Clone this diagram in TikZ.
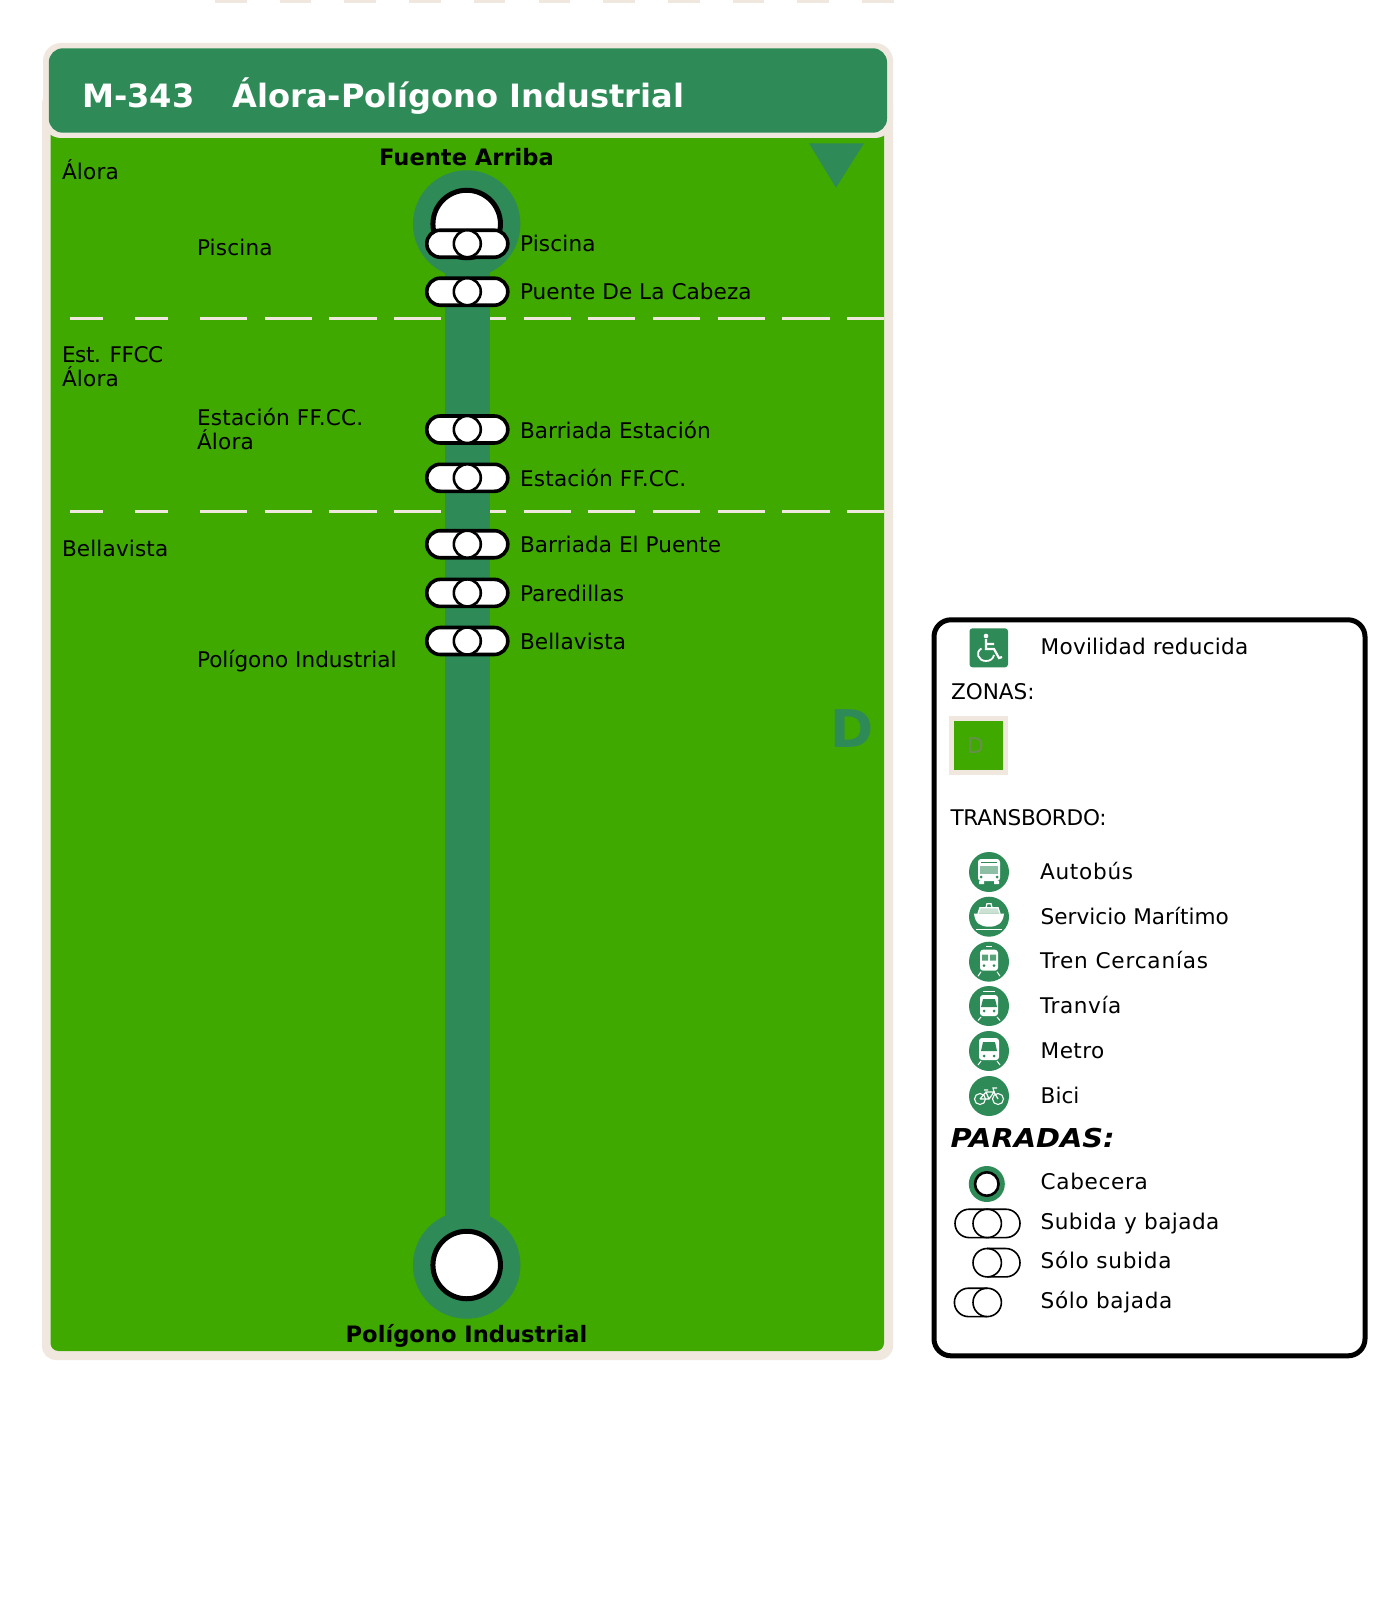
\documentclass[tikz,border=0pt]{standalone}
\usepackage{fontspec}
\setmainfont{DejaVu Sans}
\definecolor{lineg}{HTML}{2E8B57}
\definecolor{zoneg}{HTML}{3FA900}
\definecolor{creamc}{HTML}{F0E8DF}
\newcommand{\lsp}[2]{{\addfontfeature{LetterSpace=#1}#2}}
\tikzset{
  lbl/.style={anchor=base west,inner sep=0pt,outer sep=0pt,align=left,text=black,font=\fontsize{21.6}{23.8}\selectfont},
  boldlbl/.style={anchor=base,inner sep=0pt,outer sep=0pt,text=black,font=\fontsize{22.6}{26}\bfseries\selectfont},
  disc/.style={circle,fill=lineg,inner sep=0pt,outer sep=0pt,minimum size=107.5pt},
  headstop/.style={circle,fill=white,draw=black,line width=5pt,inner sep=0pt,outer sep=0pt,minimum size=67.5pt},
  capsule/.style={rectangle,rounded corners=13.4pt,fill=white,draw=black,line width=3.6pt,inner sep=0pt,outer sep=0pt,minimum width=81pt,minimum height=27pt},
  capcircle/.style={circle,fill=white,draw=black,line width=2.6pt,inner sep=0pt,outer sep=0pt,minimum size=27pt},
  sepline/.style={draw=creamc,line width=3.5pt},
  tdisc/.style={circle,fill=lineg,inner sep=0pt,outer sep=0pt,minimum size=40pt},
  wl/.style={draw=white,line width=1.3pt},
  leg/.style={draw=black,line width=1.6pt},
  pics/busicon/.style={code={
    \fill[white,rounded corners=3pt] (-11,-13) rectangle (11,9);
    \fill[lineg] (-8,-10) rectangle (8,-8.8);
    \fill[lineg!55!white] (-9,-6) rectangle (9,2);
    \fill[lineg] (-8,5) circle[radius=1.5] (8,5) circle[radius=1.5];
    \fill[white] (-10,9) rectangle (-5,12) (5,9) rectangle (10,12);
  }},
  pics/ferryicon/.style={code={
    \fill[white] (-15,-3) -- (15,-3) .. controls (14,7) and (8,10) .. (0,10) .. controls (-8,10) and (-14,7) .. (-15,-3) -- cycle;
    \fill[white,opacity=.75] (-11,-3) -- (-9,-9) -- (9,-9) -- (11,-3) -- cycle;
    \draw[wl] (-11,-3) -- (-9,-9) -- (9,-9) -- (11,-3);
    \draw[wl] (-3,-9) -- (-2,-13) -- (2,-13) -- (3,-9);
    \draw[draw=white,line width=1pt] (-13,13) -- (13,13);
  }},
  pics/trainicon/.style={code={
    \fill[white,rounded corners=3pt] (-9,-12) rectangle (9,9);
    \fill[lineg!80!white] (-7,-7) rectangle (-1,-1) (1,-7) rectangle (7,-1);
    \fill[lineg] (-5,4) circle[radius=1.5] (5,4) circle[radius=1.5];
    \draw[draw=white,line width=1pt] (-8,10) -- (-11,14.5) (8,10) -- (11,14.5);
    \draw[draw=white,line width=1pt] (-3,-15) -- (3,-15);
  }},
  pics/tramicon/.style={code={
    \fill[white,rounded corners=3pt] (-9,-11) rectangle (9,10);
    \fill[lineg] (-6,-7) -- (6,-7) -- (8,1) -- (-8,1) -- cycle;
    \fill[lineg] (-5,5) circle[radius=1.5] (5,5) circle[radius=1.5];
    \draw[draw=white,line width=1pt] (-8,11) -- (-11,14.5) (8,11) -- (11,14.5);
    \draw[draw=white,line width=1pt] (-6,-15) -- (6,-15);
  }},
  pics/metroicon/.style={code={
    \fill[white,rounded corners=3pt] (-10,-13) rectangle (10,9);
    \fill[lineg] (-6,-9) -- (6,-9) -- (8,0) -- (-8,0) -- cycle;
    \fill[lineg] (-5,5) circle[radius=1.5] (5,5) circle[radius=1.5];
    \draw[draw=white,line width=1pt] (-8,10) -- (-11,14) (8,10) -- (11,14);
  }},
  pics/bikeicon/.style={code={
    \draw[draw=white,line width=1.1pt] (-9,3) circle[radius=5.5] (9,3) circle[radius=5.5];
    \draw[draw=white,line width=1.2pt] (-9,3) -- (-3,-4) -- (5,-4) -- (0,3) -- (-9,3) (-3,-4) -- (0,3) (5,-4) -- (9,3) (5,-4) -- (4,-8) -- (8,-8) (-5,-6) -- (-1,-6);
  }},
  pics/wheelicon/.style={code={
    \fill[white] (-3,-12) circle[radius=2.3];
    \draw[draw=white,line width=2.2pt] (-3,-9) -- (-3,1) -- (5,1) -- (10,10) -- (13,9) (-3,-4) -- (5,-4);
    \draw[draw=white,line width=1.8pt] (-7.5,0.5) .. controls (-14,4) and (-11,13) .. (-3,13) .. controls (1,13) and (4,11) .. (5,7);
  }},
}
\begin{document}
\begin{tikzpicture}[x=1pt,y=-1pt]
\useasboundingbox (0,0) rectangle (1399,1624);
\fill[white] (0,0) rectangle (1399,1624);
% strip of dashes at the top edge
\draw[draw=creamc,line width=6pt,dash pattern=on 31.6pt off 33.1pt] (215,0) -- (895,0);
% panel
\fill[creamc,rounded corners=14pt] (42,90) rectangle (893,1360);
\fill[zoneg,rounded corners=8pt] (50.5,100) rectangle (884,1351);
\fill[creamc,rounded corners=18pt] (43,43) rectangle (893,138);
\fill[lineg,rounded corners=14pt] (48.8,48.3) rectangle (887,132.7);
\node[anchor=base west,inner sep=0pt,text=white,font=\fontsize{32.1}{36}\bfseries\selectfont] (title) at (82,107.5) {M-343\hspace*{38pt}Álora-Polígono Industrial};
\fill[lineg] (809,143.3) -- (864,143.3) -- (836,187.7) -- cycle;
% zone separators
\foreach \yy in {318.3,511.5}{
  \draw[sepline] (70,\yy) -- (103,\yy);
  \draw[sepline] (135,\yy) -- (168,\yy);
  \draw[sepline,dash pattern=on 47.2pt off 17.5pt] (200,\yy) -- (884,\yy);
}
% zone letter
\node[anchor=base west,inner sep=0pt,text=lineg,font=\fontsize{52}{56}\bfseries\selectfont] (zoneD) at (830,747) {D};
% line
\node[disc] (d1) at (466.7,224) {};
\node[disc] (d2) at (466.7,1265) {};
\draw[draw=lineg,line width=44.6pt] ([xshift=1pt]d1.center) -- ([xshift=1pt]d2.center);
\node[headstop] (h1) at (d1.center) {};
\node[headstop] (h2) at (d2.center) {};
% stops
\foreach \nm/\yy in {s1/243.7,s2/291.7,s3/429.5,s4/477.8,s5/544.2,s6/592.9,s7/641}{
  \node[capsule] (\nm) at (467.3,\yy) {};
  \node[capcircle] (\nm c) at (\nm.center) {};
}
% labels
\node[boldlbl] (top) at (466.5,166) {Fuente Arriba};
\node[boldlbl] (bot) at (466.5,1342) {Polígono Industrial};
\node[lbl] (z1) at (62,179) {\lsp{0.8}{Álora}};
\node[lbl] (z2) at (62,386) {\lsp{-2}{Est. FFCC}\\\lsp{0.8}{Álora}};
\node[lbl] (z3) at (62,556.7) {\lsp{0.6}{Bellavista}};
\node[lbl] (a1) at (197,255) {\lsp{0.8}{Piscina}};
\node[lbl] (a2) at (197,449) {\lsp{1}{Estación FF.CC.}\\\lsp{0.8}{Álora}};
\node[lbl] (a3) at (197,667.4) {Polígono Industrial};
\node[lbl] (t1) at (520,251.5) {\lsp{0.8}{Piscina}};
\node[lbl] (t2) at (520,299) {\lsp{0.3}{Puente De La Cabeza}};
\node[lbl] (t3) at (520,438) {\lsp{0.3}{Barriada Estación}};
\node[lbl] (t4) at (520,486) {\lsp{1}{Estación FF.CC.}};
\node[lbl] (t5) at (520,552.5) {\lsp{0.3}{Barriada El Puente}};
\node[lbl] (t6) at (520,601) {\lsp{0.5}{Paredillas}};
\node[lbl] (t7) at (520,649.5) {\lsp{0.5}{Bellavista}};
% legend
\draw[black,line width=5pt,fill=white,rounded corners=17pt] (934,619.8) rectangle (1365,1355.8);
\fill[lineg,rounded corners=3pt] (969.5,628.3) rectangle (1008,667.3);
\coordinate (wc) at (989,648);
\pic at (wc) {wheelicon};
\node[lbl] (m0) at (1040.7,654.8) {\lsp{1}{Movilidad reducida}};
\node[lbl] (m1) at (951,699.3) {ZONAS:};
\fill[creamc] (949,716) rectangle (1007.7,775);
\fill[zoneg] (954,721.3) rectangle (1003,770);
\node[anchor=base west,inner sep=0pt,text=zoneg!35!gray,font=\fontsize{21.6}{24}\selectfont] (zd) at (967,753.3) {D};
\node[lbl] (m2) at (950.5,825) {\lsp{-1.3}{TRANSBORDO:}};
\node[tdisc] (i1) at (989,872) {};
\node[tdisc] (i2) at (989,916.7) {};
\node[tdisc] (i3) at (989,961.7) {};
\node[tdisc] (i4) at (989,1006) {};
\node[tdisc] (i5) at (989,1051) {};
\node[tdisc] (i6) at (989,1096) {};
\pic at (i1.center) {busicon};
\pic at (i2.center) {ferryicon};
\pic at (i3.center) {trainicon};
\pic at (i4.center) {tramicon};
\pic at (i5.center) {metroicon};
\pic at (i6.center) {bikeicon};
\node[lbl] (l1) at (1040,879.3) {\lsp{3.4}{Autobús}};
\node[lbl] (l2) at (1040.7,924) {Servicio Marítimo};
\node[lbl] (l3) at (1040,968.7) {\lsp{3.8}{Tren Cercanías}};
\node[lbl] (l4) at (1040,1013.3) {\lsp{2.7}{Tranvía}};
\node[lbl] (l5) at (1040.7,1058.3) {\lsp{1.9}{Metro}};
\node[lbl] (l6) at (1040.7,1103.3) {Bici};
\node[anchor=base west,inner sep=0pt,text=black,font=\fontsize{26}{30}\bfseries\itshape\selectfont] (m3) at (950.5,1147.7) {\scalebox{1.11}[1]{PARADAS:}};
% stop key
\node[circle,fill=lineg,inner sep=0pt,minimum size=36pt] (k1) at (986.8,1184) {};
\node[circle,fill=white,draw=black,line width=2.6pt,inner sep=0pt,minimum size=23.5pt] (k1c) at (k1.center) {};
\node[lbl] (p1) at (1040.7,1189) {\lsp{3}{Cabecera}};
\node[rectangle,leg,rounded corners=14.2pt,inner sep=0pt,minimum width=65pt,minimum height=28.4pt] (k2) at (987.5,1223.4) {};
\node[circle,leg,inner sep=0pt,minimum size=28.4pt] (k2c) at (987.2,1223.4) {};
\node[lbl] (p2) at (1040.7,1229) {\lsp{1.9}{Subida y bajada}};
\coordinate (k3) at (987.2,1262.7);
\draw[leg] (k3) ++(0,-14.2) -- ++(18.6,0) arc[start angle=-90,end angle=90,radius=14.2] -- ++(-18.6,0);
\node[circle,leg,inner sep=0pt,minimum size=28.4pt] (k3c) at (k3) {};
\node[lbl] (p3) at (1040.7,1268.7) {\lsp{3.2}{Sólo subida}};
\coordinate (k4) at (987.2,1302.4);
\draw[leg] (k4) ++(0,-14.2) -- ++(-18.6,0) arc[start angle=-90,end angle=-270,radius=14.2] -- ++(18.6,0);
\node[circle,leg,inner sep=0pt,minimum size=28.4pt] (k4c) at (k4) {};
\node[lbl] (p4) at (1040.7,1308.3) {\lsp{2.8}{Sólo bajada}};
\end{tikzpicture}
\end{document}
